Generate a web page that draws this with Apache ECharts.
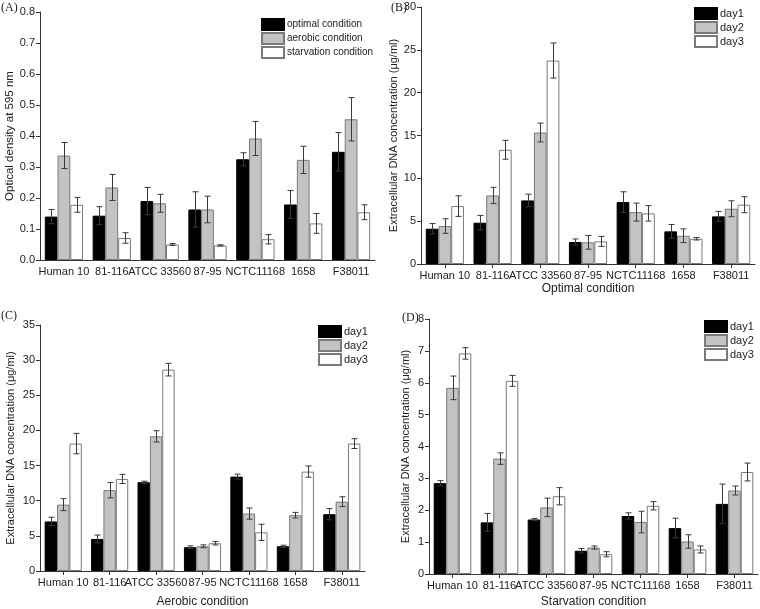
<!DOCTYPE html>
<html>
<head>
<meta charset="utf-8">
<script src="https://cdn.jsdelivr.net/npm/echarts@6/dist/echarts.min.js"></script>
<style>
  html, body { margin: 0; padding: 0; background: #fff; }
  #chart { width: 760px; height: 609px; }
</style>
</head>
<body>
<div id="chart"></div>
<script>
const categories = ['Human 10', '81-116', 'ATCC 33560', '87-95', 'NCTC11168', '1658', 'F38011'];

// (A) optical density at 595 nm
const odOptimal = [0.14, 0.143, 0.19, 0.163, 0.325, 0.179, 0.349];
const odOptimalErr = [0.023, 0.029, 0.044, 0.057, 0.021, 0.045, 0.062];
const odAerobic = [0.337, 0.234, 0.183, 0.163, 0.392, 0.323, 0.454];
const odAerobicErr = [0.042, 0.042, 0.029, 0.043, 0.055, 0.044, 0.07];
const odStarvation = [0.178, 0.071, 0.05, 0.047, 0.067, 0.118, 0.154];
const odStarvationErr = [0.024, 0.017, 0.003, 0.002, 0.015, 0.032, 0.024];

// (B) optimal condition, eDNA ug/ml
const optDay1 = [4.12, 4.82, 7.42, 2.57, 7.23, 3.81, 5.56];
const optDay1Err = [0.6, 0.85, 0.73, 0.35, 1.2, 0.8, 0.58];
const optDay2 = [4.43, 8.0, 15.35, 2.53, 6.06, 3.3, 6.45];
const optDay2Err = [0.85, 0.95, 1.1, 0.8, 1.05, 0.8, 0.93];
const optDay3 = [6.76, 13.33, 23.75, 2.64, 5.91, 2.95, 6.92];
const optDay3Err = [1.2, 1.1, 2.05, 0.58, 0.9, 0.15, 0.93];

// (C) aerobic condition
const aerDay1 = [7.05, 4.56, 12.63, 3.38, 13.43, 3.52, 8.08];
const aerDay1Err = [0.6, 0.56, 0.15, 0.2, 0.35, 0.15, 0.8];
const aerDay2 = [9.44, 11.5, 19.16, 3.52, 8.17, 7.94, 9.86];
const aerDay2Err = [0.85, 1.1, 0.8, 0.2, 0.8, 0.4, 0.7];
const aerDay3 = [18.13, 13.1, 28.65, 3.95, 5.5, 14.14, 18.13];
const aerDay3Err = [1.45, 0.65, 0.9, 0.25, 1.15, 0.8, 0.7];

// (D) starvation condition
const starvDay1 = [2.85, 1.62, 1.71, 0.73, 1.82, 1.44, 2.2];
const starvDay1Err = [0.08, 0.28, 0.03, 0.07, 0.1, 0.31, 0.62];
const starvDay2 = [5.84, 3.62, 2.09, 0.83, 1.63, 1.02, 2.62];
const starvDay2Err = [0.37, 0.18, 0.29, 0.05, 0.34, 0.21, 0.14];
const starvDay3 = [6.92, 6.06, 2.44, 0.62, 2.14, 0.77, 3.2];
const starvDay3Err = [0.18, 0.17, 0.27, 0.08, 0.13, 0.11, 0.28];

const FONT = 'Liberation Sans, Arial, sans-serif';
const barStyles = [
  { color: '#000000', borderColor: '#000000', borderWidth: 1 },
  { color: '#c3c3c3', borderColor: '#7a7a7a', borderWidth: 1 },
  { color: '#ffffff', borderColor: '#7a7a7a', borderWidth: 1 }
];
const GAP = 0.2;

const chart = echarts.init(document.getElementById('chart'));

const panels = [
  { grid: { left: 40, top: 12, width: 335, height: 248 }, max: 0.8, interval: 0.1, dec: 1,
    yName: 'Optical density at 595 nm', yGap: 24, yFont: 11.5, xName: '', xGap: 22, xTicks: false,
    names: ['optimal condition', 'aerobic condition', 'starvation condition'], legFont: 10,
    vals: [odOptimal, odAerobic, odStarvation], errs: [odOptimalErr, odAerobicErr, odStarvationErr],
    legend: { left: 261, top: 18 } },
  { grid: { left: 421, top: 7, width: 334, height: 257 }, max: 30, interval: 5, dec: 0,
    yName: 'Extracellular DNA concentration (μg/ml)', yGap: 19, yFont: 11, xName: 'Optimal condition', xGap: 19, xTicks: true,
    names: ['day1', 'day2', 'day3'], legFont: 11,
    vals: [optDay1, optDay2, optDay3], errs: [optDay1Err, optDay2Err, optDay3Err],
    legend: { left: 694, top: 7 } },
  { grid: { left: 40, top: 325, width: 325, height: 248 }, max: 35, interval: 5, dec: 0,
    yName: 'Extracellular DNA concentration (μg/ml)', yGap: 24, yFont: 11, xName: 'Aerobic condition', xGap: 25, xTicks: true,
    names: ['day1', 'day2', 'day3'], legFont: 11,
    vals: [aerDay1, aerDay2, aerDay3], errs: [aerDay1Err, aerDay2Err, aerDay3Err],
    legend: { left: 318, top: 325 } },
  { grid: { left: 429, top: 319, width: 329, height: 256 }, max: 8, interval: 1, dec: 0,
    yName: 'Extracellular DNA concentration (μg/ml)', yGap: 18, yFont: 11, xName: 'Starvation condition', xGap: 22, xTicks: true,
    names: ['day1', 'day2', 'day3'], legFont: 11,
    vals: [starvDay1, starvDay2, starvDay3], errs: [starvDay1Err, starvDay2Err, starvDay3Err],
    legend: { left: 704, top: 320 } }
];

function errRender(pos) {
  return function (params, api) {
    const i = api.value(0), v = api.value(1), e = api.value(2);
    const hi = api.coord([i, v + e]);
    const lo = api.coord([i, v - e]);
    const cw = api.size([1, 0])[0];
    const bw = cw * (1 - GAP) / 3;
    const x = Math.round(hi[0] + (pos - 1) * bw) + 0.5;
    const cap = 3;
    const style = { stroke: '#3a3a3a', lineWidth: 1 };
    return {
      type: 'group',
      children: [
        { type: 'line', shape: { x1: x, y1: hi[1], x2: x, y2: lo[1] }, style },
        { type: 'line', shape: { x1: x - cap, y1: hi[1], x2: x + cap, y2: hi[1] }, style },
        { type: 'line', shape: { x1: x - cap, y1: lo[1], x2: x + cap, y2: lo[1] }, style }
      ]
    };
  };
}

const grids = [], xAxes = [], yAxes = [], series = [], legends = [];
panels.forEach((p, k) => {
  grids.push(p.grid);
  xAxes.push({
    type: 'category', gridIndex: k, data: categories, boundaryGap: true,
    name: p.xName, nameLocation: 'middle', nameGap: p.xGap,
    nameTextStyle: { fontFamily: FONT, fontSize: 12, color: '#222' },
    axisLine: { lineStyle: { color: '#333', width: 1 } },
    axisTick: { show: p.xTicks, alignWithLabel: true, length: 4, lineStyle: { color: '#333' } },
    axisLabel: { interval: 0, fontFamily: FONT, fontSize: 11, color: '#222', margin: 6 }
  });
  yAxes.push({
    type: 'value', gridIndex: k, min: 0, max: p.max, interval: p.interval,
    name: p.yName, nameLocation: 'middle', nameGap: p.yGap,
    nameTextStyle: { fontFamily: FONT, fontSize: p.yFont, color: '#222' },
    axisLine: { show: true, lineStyle: { color: '#333', width: 1 } },
    axisTick: { show: true, length: 4, lineStyle: { color: '#333' } },
    splitLine: { show: false },
    axisLabel: { fontFamily: FONT, fontSize: 11, color: '#222', margin: 5,
      formatter: v => v.toFixed(p.dec) }
  });
  p.names.forEach((name, j) => {
    series.push({
      name, type: 'bar', xAxisIndex: k, yAxisIndex: k,
      data: p.vals[j], barGap: '0%', barCategoryGap: GAP * 100 + '%',
      itemStyle: barStyles[j], animation: false
    });
  });
  p.names.forEach((name, j) => {
    series.push({
      type: 'custom', xAxisIndex: k, yAxisIndex: k, z: 5,
      renderItem: errRender(j),
      data: categories.map((c, i) => [i, p.vals[j][i], p.errs[j][i]]),
      silent: true, animation: false
    });
  });
  legends.push({
    data: p.names, left: p.legend.left, top: p.legend.top, orient: 'vertical',
    icon: 'rect', itemWidth: 22, itemHeight: 11, itemGap: 1,
    textStyle: { fontFamily: FONT, fontSize: p.legFont, color: '#222', padding: [0, 0, 0, -2] },
    padding: 0
  });
});

const panelLabels = [['(A)', 1, 2], ['(B)', 391, 2], ['(C)', 1, 310], ['(D)', 402, 312]];

chart.setOption({
  animation: false,
  backgroundColor: '#fff',
  grid: grids,
  xAxis: xAxes,
  yAxis: yAxes,
  legend: legends,
  series,
  graphic: panelLabels.map(([t, x, y]) => ({
    type: 'text', left: x, top: y,
    style: { text: t, font: '12px "Liberation Serif", serif', fill: '#222' }
  }))
});
</script>
</body>
</html>
